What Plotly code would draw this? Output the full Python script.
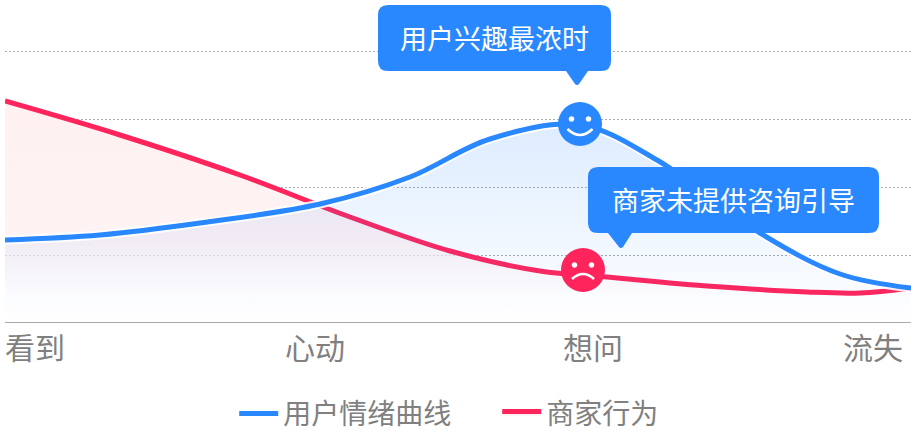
import plotly.graph_objects as go

FONT = "Noto Sans CJK SC"
BLUE = "#2a88ff"
RED = "#ff245c"
GRAY = "#808080"

categories = ["看到", "心动", "想问", "流失"]
category_x = [35, 315, 593, 873]
grid_heights = [67, 135, 203, 271]

blue_x = [5, 100, 200, 320, 410, 490, 580, 657, 760, 840, 911]
blue_y = [82, 87, 99, 118, 145, 183, 197, 162, 89, 48, 34]
red_x = [5, 120, 240, 350, 450, 540, 607, 707, 807, 860, 911]
red_y = [221, 187, 147, 105, 71, 51, 45, 36, 30, 29, 34]

blue_name = "用户情绪曲线"
red_name = "商家行为"
happy_point = (580, 198)
sad_point = (583, 52)
bubble_one = ("用户兴趣最浓时", 378, 611, 251, 317, 566, 588, 577, 236)
bubble_two = ("商家未提供咨询引导", 588, 879, 89, 155, 608, 632, 621, 73)


def bubble_path(x0, x1, y0, y1, t0, t1, tx, ty, r=10):
    return (f"M{x0+r},{y1} L{x1-r},{y1} Q{x1},{y1} {x1},{y1-r} L{x1},{y0+r} Q{x1},{y0} {x1-r},{y0} "
            f"L{t1},{y0} L{tx+2},{ty+2} Q{tx},{ty} {tx-2},{ty+2} L{t0},{y0} "
            f"L{x0+r},{y0} Q{x0},{y0} {x0},{y0+r} L{x0},{y1-r} Q{x0},{y1} {x0+r},{y1} Z")


fig = go.Figure()
fig.add_trace(go.Scatter(
    x=red_x, y=red_y, name=red_name, mode="lines", cliponaxis=False,
    line=dict(color=RED, width=5, shape="spline"), fill="tozeroy",
    fillgradient=dict(type="vertical", start=0, stop=221,
                      colorscale=[[0, "rgba(255,241,242,0)"], [0.12, "rgba(255,241,242,0.05)"],
                                  [0.38, "rgba(255,241,242,0.9)"], [1, "rgba(255,241,242,1)"]]),
))
fig.add_trace(go.Scatter(
    x=blue_x, y=blue_y, mode="lines", showlegend=False, hoverinfo="skip",
    line=dict(color="rgba(255,255,255,0.9)", width=9, shape="spline"), fill="tozeroy",
    fillgradient=dict(type="vertical", start=0, stop=198,
                      colorscale=[[0, "rgba(42,136,255,0)"], [1, "rgba(42,136,255,0.16)"]]),
))
fig.add_trace(go.Scatter(
    x=blue_x, y=blue_y, name=blue_name, mode="lines", cliponaxis=False,
    line=dict(color=BLUE, width=5, shape="spline"),
))
fig.add_trace(go.Scatter(
    x=[happy_point[0]], y=[happy_point[1]], mode="markers", showlegend=False,
    marker=dict(color=BLUE, size=44),
))
fig.add_trace(go.Scatter(
    x=[sad_point[0]], y=[sad_point[1]], mode="markers", showlegend=False,
    marker=dict(color=RED, size=44),
))


def face_shape(point, path, **kw):
    return dict(type="path", xsizemode="pixel", ysizemode="pixel", xanchor=point[0], yanchor=point[1],
                xref="x", yref="y", path=path, layer="above", **kw)


def eye(cx, cy, r=2.8):
    k = r * 0.55
    return (f"M{cx-r},{cy} C{cx-r},{cy+k} {cx-k},{cy+r} {cx},{cy+r} C{cx+k},{cy+r} {cx+r},{cy+k} {cx+r},{cy} "
            f"C{cx+r},{cy-k} {cx+k},{cy-r} {cx},{cy-r} C{cx-k},{cy-r} {cx-r},{cy-k} {cx-r},{cy} Z")


shapes = []
for text, x0, x1, y0, y1, t0, t1, tx, ty in [bubble_one, bubble_two]:
    shapes.append(dict(type="path", xref="x", yref="y", layer="above", fillcolor=BLUE, line_width=0,
                       path=bubble_path(x0, x1, y0, y1, t0, t1, tx, ty)))
for p in (happy_point, sad_point):
    shapes.append(face_shape(p, eye(-8.5, 5), fillcolor="white", line_width=0))
    shapes.append(face_shape(p, eye(8.5, 5), fillcolor="white", line_width=0))
shapes.append(face_shape(happy_point, "M-12.5,-5 Q0,-17 12.5,-5", line=dict(color="white", width=2.6)))
shapes.append(face_shape(sad_point, "M-11,-9 Q0,1 11,-9", line=dict(color="white", width=2.6)))

annotations = [
    dict(x=(x0 + x1) / 2, y=(y0 + y1) / 2 + 1, text=text, showarrow=False, xref="x", yref="y",
         font=dict(family=FONT, size=27, color="white"))
    for text, x0, x1, y0, y1, t0, t1, tx, ty in [bubble_one, bubble_two]
]

fig.update_layout(
    width=914, height=434, margin=dict(l=5, r=3, t=0, b=112, pad=0, autoexpand=False),
    paper_bgcolor="white", plot_bgcolor="white", font=dict(family=FONT, color=GRAY),
    shapes=shapes, annotations=annotations, hovermode=False,
    xaxis=dict(range=[5, 911], tickvals=category_x, ticktext=categories, showgrid=False, zeroline=False,
               showline=True, linecolor="#aaaaaa", linewidth=1, ticks="", ticklen=0,
               tickfont=dict(family=FONT, size=30, color=GRAY)),
    yaxis=dict(range=[0, 322], tickvals=grid_heights, showticklabels=False, zeroline=False, ticks="",
               showgrid=True, gridcolor="#ababab", griddash="2px,2px", gridwidth=1),
    legend=dict(orientation="h", xanchor="left", x=0.253, yanchor="middle", y=-0.285, traceorder="reversed",
                font=dict(family=FONT, size=28, color=GRAY), itemwidth=39, entrywidth=209,
                bgcolor="rgba(0,0,0,0)"),
)
fig.write_html("out.html", config=dict(displayModeBar=False),
               post_script="document.body.style.margin='0';document.body.style.overflow='hidden';")
